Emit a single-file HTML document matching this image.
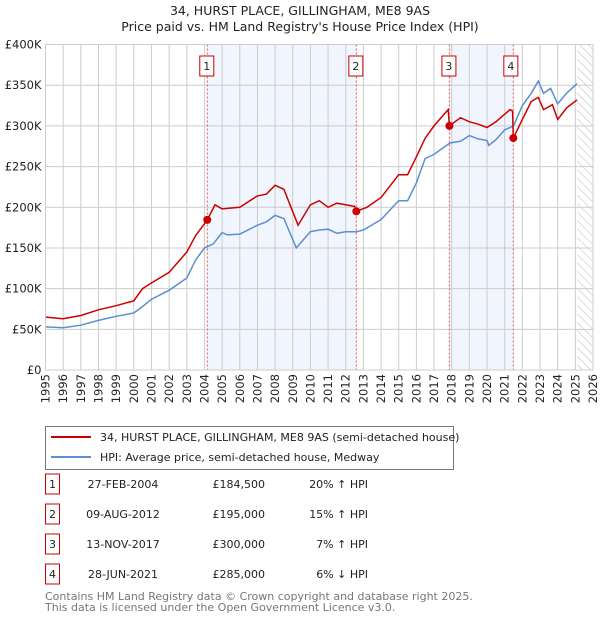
<!DOCTYPE html>
<html><head><meta charset="utf-8"><style>
body{margin:0;background:#fff;font-family:"Liberation Sans","DejaVu Sans",sans-serif;}
svg text{font-family:"DejaVu Sans","Liberation Sans",sans-serif;}
</style></head><body>
<svg id="c" width="600" height="620" viewBox="0 0 600 620">
<text x="300" y="15" text-anchor="middle" font-size="12.5" fill="#222">34, HURST PLACE, GILLINGHAM, ME8 9AS</text>
<text x="300" y="31" text-anchor="middle" font-size="12.5" fill="#222">Price paid vs. HM Land Registry's House Price Index (HPI)</text>
<g id="plot"></g>
<g>
<rect x="45.5" y="426.5" width="408" height="43" fill="#fff" stroke="#777"/>
<line x1="51" y1="437" x2="91" y2="437" stroke="#cc0000" stroke-width="2"/>
<text x="100" y="441" font-size="11" fill="#222">34, HURST PLACE, GILLINGHAM, ME8 9AS (semi-detached house)</text>
<line x1="51" y1="457" x2="91" y2="457" stroke="#5b8fd0" stroke-width="2"/>
<text x="100" y="461" font-size="11" fill="#222">HPI: Average price, semi-detached house, Medway</text>
</g>
<g id="table" font-size="11" fill="#222"></g>
<text x="45" y="600" font-size="11" fill="#777">Contains HM Land Registry data © Crown copyright and database right 2025.</text>
<text x="45" y="611" font-size="11" fill="#777">This data is licensed under the Open Government Licence v3.0.</text>
</svg>
<script>
const hpiYears=[1995,1996,1997,1998,1999,2000,2000.5,2001,2002,2003,2003.5,2004,2004.5,2005,2005.3,2006,2007,2007.5,2008,2008.5,2009.2,2010,2010.5,2011,2011.5,2012,2012.6,2013,2014,2015,2015.5,2016,2016.5,2017,2017.9,2018.5,2019,2019.5,2020,2020.1,2020.5,2021,2021.5,2022,2022.5,2022.9,2023.2,2023.6,2024,2024.5,2025.1];
const hpiValues=[53,52,55,61,66,70,78,87,98,113,135,150,155,169,166,167,178,182,190,186,150,170,172,173,168,170,170,172,185,208,208,230,260,265,279,281,288,284,282,276,283,295,300,325,340,355,340,346,327,340,352];
const propYears=[1995,1996,1997,1998,1999,2000,2000.5,2001,2002,2003,2003.5,2004.16,2004.6,2005,2006,2007,2007.5,2008,2008.5,2009.3,2010,2010.5,2011,2011.5,2012.5,2012.6,2013.2,2014,2015,2015.5,2016,2016.5,2017,2017.8,2017.87,2018.5,2019,2019.5,2020,2020.5,2021.3,2021.45,2021.49,2022,2022.5,2022.9,2023.2,2023.7,2024,2024.5,2025.1];
const propValues=[65,63,67,74,79,85,100,107,120,145,165,184.5,203,198,200,214,216,227,222,178,203,208,200,205,201,195,200,212,240,240,262,285,300,320,300,310,305,302,298,305,320,318,285,308,330,335,320,326,308,322,332];
const saleYears=[2004.16,2012.6,2017.87,2021.49];
const saleValues=[184.5,195,300,285];
const saleLabels=["1","2","3","4"];
const saleDates=["27-FEB-2004","09-AUG-2012","13-NOV-2017","28-JUN-2021"];
const salePrices=["£184,500","£195,000","£300,000","£285,000"];
const saleDiffs=["20% \u2191 HPI","15% \u2191 HPI","7% \u2191 HPI","6% \u2193 HPI"];
const yTicks=[0,50,100,150,200,250,300,350,400];
const yTickLabels=["£0","£50K","£100K","£150K","£200K","£250K","£300K","£350K","£400K"];
const X0=45.5,X1=593,Y0=370,Y1=44.5;
const x=y=>X0+(y-1995)/31*(X1-X0);
const yv=v=>Y0-v/400*(Y0-Y1);
const NS="http://www.w3.org/2000/svg";
const g=document.getElementById('plot');
function mk(t,a,p){const e=document.createElementNS(NS,t);for(const k in a)e.setAttribute(k,a[k]);(p||g).appendChild(e);return e;}
// shading
[[0,1],[2,3]].forEach((pr,i)=>{const r=mk('rect',{x:x(saleYears[pr[0]]),y:Y1,width:x(saleYears[pr[1]])-x(saleYears[pr[0]]),height:Y0-Y1,fill:'#eef3fc',opacity:0.8});

});
// hatch
const d=mk('defs',{});const pat=mk('pattern',{id:'h',width:6,height:6,patternUnits:'userSpaceOnUse',patternTransform:'rotate(-45)'},d);mk('line',{x1:0,y1:0,x2:0,y2:6,stroke:'#aaa','stroke-width':0.8},pat);
const hr=mk('rect',{x:x(2025.1),y:Y1,width:X1-x(2025.1),height:Y0-Y1,fill:'url(#h)'});


// grid
for(let yr=1995;yr<=2026;yr++){const l=mk('line',{x1:x(yr),x2:x(yr),y1:Y1,y2:Y0,stroke:'#ccc','stroke-width':1});
const t=mk('text',{x:0,y:0,'font-size':11.5,fill:'#222','text-anchor':'end',transform:`translate(${x(yr)+4},${Y0+4}) rotate(-90)`});t.textContent=yr;

}
yTicks.forEach((v,i)=>{mk('line',{x1:X0,x2:X1,y1:yv(v),y2:yv(v),stroke:'#ccc','stroke-width':1});
const t=mk('text',{x:X0-4,y:yv(v)+4,'font-size':11.5,fill:'#222','text-anchor':'end'});t.textContent=yTickLabels[i];

});
// sale lines
saleYears.forEach((s,i)=>{mk('line',{x1:x(s),x2:x(s),y1:Y1,y2:Y0,stroke:'#e05555','stroke-width':1,'stroke-dasharray':'2,2'});
const b=mk('rect',{x:x(s)-8-(i==3?0:0),y:56,width:14,height:20,fill:'#fff',stroke:'#cc0000'});b.setAttribute('x',x(s)-6.5-(i==0||i==1?1:0)-(i==2?1:0)-(i==3?3:0));


const t=mk('text',{x:+b.getAttribute('x')+7,y:70,'font-size':11,fill:'#222','text-anchor':'middle'});t.textContent=saleLabels[i];

});
function line(xs,vs,col,name){const p=mk('path',{d:xs.map((a,i)=>(i?'L':'M')+x(a).toFixed(1)+','+yv(vs[i]).toFixed(1)).join(''),fill:'none',stroke:col,'stroke-width':1.5});

}
line(hpiYears,hpiValues,'#5b8fd0','hpi-line');
line(propYears,propValues,'#cc0000','property-line');
saleYears.forEach((s,i)=>{const c=mk('circle',{cx:x(s),cy:yv(saleValues[i]),r:4,fill:'#cc0000'});

});
mk('rect',{x:X0,y:Y1,width:X1-X0,height:Y0-Y1,fill:'none',stroke:'#ccc'});
// table
const tb=document.getElementById('table');
saleDates.forEach((dt,i)=>{const cy=484+i*30;
const b=mk('rect',{x:45.5,y:cy-10,width:14,height:20,fill:'#fff',stroke:'#cc0000'},tb);


const cols=[[52.5,saleLabels[i],'middle'],[123,dt,'middle'],[265,salePrices[i],'end'],[368,saleDiffs[i],'end']];
cols.forEach(c=>{const t=mk('text',{x:c[0],y:cy+4,'text-anchor':c[2]},tb);t.textContent=c[1];

});});
</script>
</body></html>
